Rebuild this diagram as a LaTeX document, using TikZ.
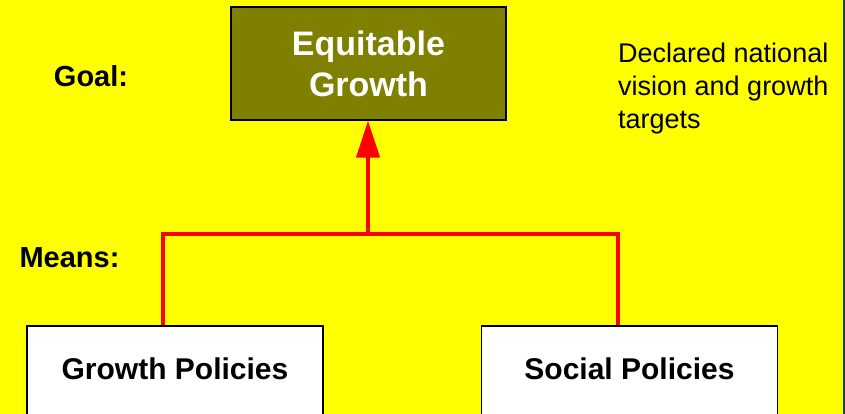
\documentclass[tikz,border=0pt]{standalone}
\usepackage{fontspec}
\setmainfont{Liberation Sans}
\usetikzlibrary{arrows.meta}
\definecolor{edgeteal}{RGB}{20,70,70}
\definecolor{slideyellow}{RGB}{255,255,0}
\definecolor{goalolive}{RGB}{128,128,0}
\definecolor{linkred}{RGB}{255,0,0}

\begin{document}
\begin{tikzpicture}[x=1pt,y=1pt,
    goalbox/.style={draw=black,line width=1.5pt,fill=goalolive,text=white,align=center,
        minimum width=275pt,minimum height=113pt,font=\fontsize{34}{41}\selectfont\bfseries},
    policy/.style={draw=black,line width=1.2pt,fill=white,minimum width=296pt,inner sep=0pt,
        text height=53pt,text depth=80pt,font=\fontsize{30}{36}\selectfont\bfseries},
    tag/.style={font=\fontsize{29}{35}\selectfont\bfseries,inner sep=0pt},
    link/.style={linkred,line width=4.5pt,line join=miter}]
    \path[use as bounding box,fill=slideyellow] (0,0) rectangle (845,-414);
    \clip (0,0) rectangle (845,-414);
    \draw[line width=2pt,edgeteal] (843.5,0) -- (843.5,-414);
    % goal
    \node[goalbox] (eg) at (368.5,-63.5) {Equitable\\Growth};
    \node[tag] (goal) at (91,-76) {Goal:};
    \node[anchor=north west,inner sep=0pt,align=left,font=\fontsize{27}{33}\selectfont]
        (vision) at (618,-43) {Declared national\\vision and growth\\targets};
    % means
    \node[tag] (means) at (69.5,-258) {Means:};
    \node[policy,anchor=base] (gp) at (175,-379) {Growth Policies};
    \node[policy,anchor=base] (sp) at (629.5,-379) {Social Policies};
    \coordinate (bus) at (368,-234);
    \draw[link] ([xshift=-12pt]gp.north) |- (bus) -| ([xshift=-11.5pt]sp.north);
    \draw[link,-{Triangle[width=23pt,length=37pt]}] (bus) -- (eg.south -| bus);
\end{tikzpicture}
\end{document}
